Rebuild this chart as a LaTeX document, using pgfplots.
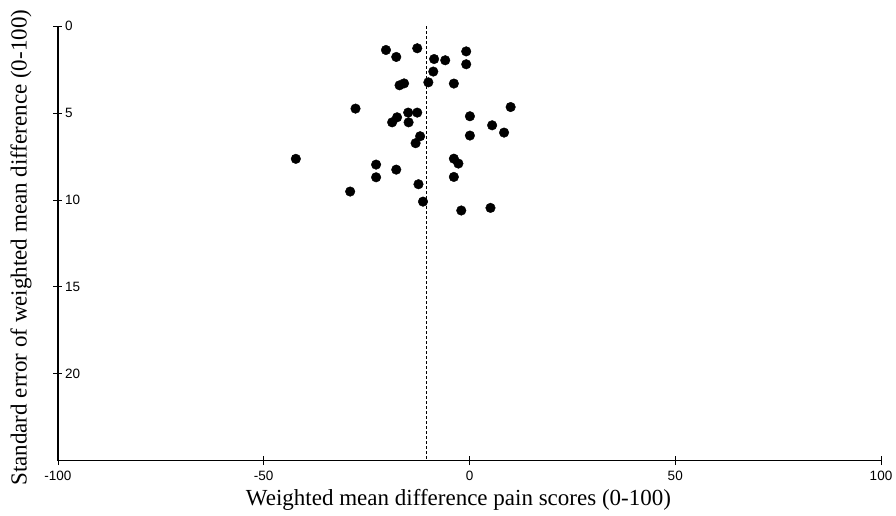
\documentclass[border=0pt]{standalone}
\usepackage{fontspec}
\setmainfont{Liberation Serif}
\newfontfamily\arialf{Liberation Sans}
\usepackage{pgfplots}
\pgfplotsset{compat=1.18}
\begin{document}
\begin{tikzpicture}
\useasboundingbox (-58pt,-54.3pt) rectangle (838pt,460.7pt);
\begin{axis}[
  scale only axis,
  width=823pt, height=434.7pt,
  xmin=-100, xmax=100, ymin=0, ymax=25,
  y dir=reverse,
  axis x line=bottom, axis y line=left,
  axis line style={-, line width=1.2pt},
  xtick={-100,-50,0,50,100},
  xticklabels={-100,-50,0,50,100},
  ytick={0,5,10,15,20},
  yticklabels={0,5,10,15,20},
  tick style={black, line width=0.7pt},
  tick align=center,
  major tick length=9pt,
  ticklabel style={font=\arialf\fontsize{13.5}{14}\selectfont},
  yticklabel style={anchor=west, xshift=8pt},
  xticklabel style={yshift=-2pt},
  xlabel={Weighted mean difference pain scores (0-100)},
  ylabel={Standard error of weighted mean difference (0-100)},
  label style={font=\fontsize{23}{24}\selectfont},
  xlabel style={at={(axis description cs:0.4866,-0.0904)}, anchor=center},
  ylabel style={at={(axis description cs:-0.045,0.49)}, anchor=center, rotate=0},
  clip=false,
]
\addplot[black, dashed, line width=0.7pt, dash pattern=on 3pt off 2pt] coordinates {(-10.5,0) (-10.5,25)};
\addplot[only marks, mark=*, mark size=4.8pt, black, mark options={fill=black}] coordinates {
(-20.3,1.38) (-12.7,1.28) (-17.8,1.78) (-0.8,1.46) (-8.6,1.90) (-5.9,1.97)
(-0.8,2.20) (-8.8,2.62) (-17.0,3.41) (-15.9,3.30) (-10.0,3.24) (-3.8,3.31)
(-27.7,4.75) (10.0,4.66) (-14.9,4.98) (-12.7,4.98) (-17.6,5.25) (-18.8,5.54)
(-14.8,5.54) (0.1,5.19) (5.5,5.71) (8.4,6.13) (0.1,6.30) (-12.0,6.34)
(-13.1,6.74) (-42.2,7.64) (-22.7,7.97) (-17.8,8.26) (-3.8,7.63) (-2.7,7.91)
(-22.7,8.70) (-3.8,8.68) (-12.4,9.10) (-29.0,9.52) (-11.3,10.10) (-2.0,10.61)
(5.1,10.46)
};
\end{axis}
\end{tikzpicture}
\end{document}
